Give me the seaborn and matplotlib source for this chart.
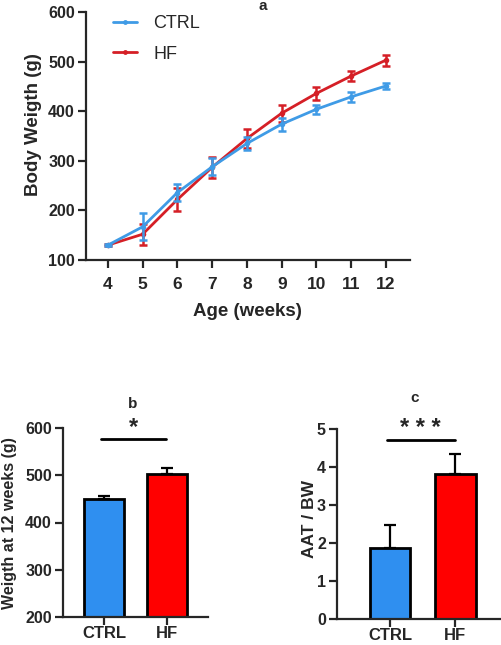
import numpy as np
import pandas as pd
import matplotlib
matplotlib.use('Agg')
import matplotlib.pyplot as plt
import seaborn as sns
from matplotlib.lines import Line2D

# Body weight over time (mean +/- error)
weeks = [4, 5, 6, 7, 8, 9, 10, 11, 12]
ctrl_bw = [130, 167, 236, 288, 335, 374, 404, 429, 451]
ctrl_err = [2, 27, 18, 17, 13, 13, 9, 10, 6]
hf_bw = [130, 152, 222, 287, 345, 396, 436, 471, 503]
hf_err = [2, 21, 24, 21, 20, 17, 13, 11, 11]

# Bar panels
groups = ['CTRL', 'HF']
w12 = [450, 503]
w12_err = [7, 12]
aat_bw = [1.88, 3.81]
aat_err = [0.60, 0.53]

blue_line = '#3f9be6'
red_line = '#d51f26'
blue_bar = '#2f8ff0'
red_bar = '#ff0000'

sns.set_style('ticks')
plt.rcParams['font.family'] = ['Liberation Sans', 'DejaVu Sans']
plt.rcParams['axes.linewidth'] = 1.6
plt.rcParams['xtick.major.width'] = 1.6
plt.rcParams['ytick.major.width'] = 1.6
plt.rcParams['xtick.major.size'] = 6
plt.rcParams['ytick.major.size'] = 6

fig = plt.figure(figsize=(5.01, 6.45), dpi=100)
W, H = 501, 645


def add_ax(l, r, t, b):
    return fig.add_axes([l / W, 1 - b / H, (r - l) / W, (b - t) / H])


# ---- panel a ----
ax_a = add_ax(86, 410, 12, 260)
df = pd.DataFrame({
    'week': weeks * 2,
    'bw': ctrl_bw + hf_bw,
    'group': ['CTRL'] * len(weeks) + ['HF'] * len(weeks),
})
sns.lineplot(data=df, x='week', y='bw', hue='group',
             palette={'CTRL': blue_line, 'HF': red_line},
             hue_order=['HF', 'CTRL'], marker='o', markersize=4, markeredgewidth=0,
             linewidth=2, errorbar=None, ax=ax_a, legend=False)
ax_a.errorbar(weeks, hf_bw, yerr=hf_err, fmt='none', ecolor=red_line, elinewidth=1.8,
              capsize=2.8, capthick=1.8, zorder=2)
ax_a.errorbar(weeks, ctrl_bw, yerr=ctrl_err, fmt='none', ecolor=blue_line, elinewidth=1.8,
              capsize=2.8, capthick=1.8, zorder=3)
ax_a.lines[1].set_zorder(4)
ax_a.set_xlim(3.37, 12.69)
ax_a.set_ylim(100, 600)
ax_a.set_xticks(weeks)
ax_a.set_yticks([100, 200, 300, 400, 500, 600])
ax_a.tick_params(axis='x', labelsize=12.5, pad=6)
ax_a.tick_params(axis='y', labelsize=11.5, pad=2)
for t in ax_a.get_xticklabels() + ax_a.get_yticklabels():
    t.set_fontweight('bold')
ax_a.set_xlabel('')
ax_a.set_ylabel('')
sns.despine(ax=ax_a)
fig.text(247 / W, 1 - 312 / H, 'Age (weeks)', ha='center', va='center',
         fontsize=13.5, fontweight='bold')
fig.text(33 / W, 1 - 125 / H, 'Body Weigth (g)', ha='center', va='center',
         rotation=90, fontsize=13.5, fontweight='bold')
fig.text(263 / W, 1 - 6 / H, 'a', ha='center', va='center', fontsize=11, fontweight='bold')

# legend
handles = [Line2D([], [], color=blue_line, lw=2, marker='o', markersize=3.5, markeredgewidth=0),
           Line2D([], [], color=red_line, lw=2, marker='o', markersize=3.5, markeredgewidth=0)]
ax_a.legend(handles, groups, loc='upper left', bbox_to_anchor=(113 / W, 1 - 15 / H),
            bbox_transform=fig.transFigure, frameon=False, fontsize=13,
            handlelength=1.35, handletextpad=0.9, labelspacing=0.75, borderpad=0,
            borderaxespad=0)


def bar_panel(ax, vals, errs, ylim, yticks, width):
    sns.barplot(x=groups, y=vals, hue=groups, palette=[blue_bar, red_bar], legend=False,
                saturation=1, edgecolor='black', linewidth=2, width=width, ax=ax)
    ax.errorbar([0, 1], vals, yerr=[[0, 0], errs], fmt='none', ecolor='black',
                elinewidth=1.6, capsize=4.5, capthick=1.6, zorder=1)
    ax.set_ylim(*ylim)
    ax.set_yticks(yticks)
    ax.tick_params(axis='x', labelsize=12, pad=0.5)
    ax.tick_params(axis='y', labelsize=11.5, pad=2)
    for t in ax.get_xticklabels() + ax.get_yticklabels():
        t.set_fontweight('bold')
    ax.set_xlabel('')
    ax.set_ylabel('')
    sns.despine(ax=ax)


# ---- panel b ----
ax_b = add_ax(63, 208, 428, 617)
bar_panel(ax_b, w12, w12_err, (200, 600), [200, 300, 400, 500, 600], 0.63)
ax_b.set_xlim(-0.65, 1.65)
ax_b.plot([-0.05, 0.98], [577, 577], color='black', lw=2, clip_on=False)
ax_b.text(0.47, 577, '*', ha='center', va='bottom', fontsize=17, fontweight='bold')
fig.text(10 / W, 1 - 523 / H, 'Weigth at 12 weeks (g)', ha='center', va='center',
         rotation=90, fontsize=11.5, fontweight='bold')
fig.text(133 / W, 1 - 404 / H, 'b', ha='center', va='center', fontsize=11, fontweight='bold')

# ---- panel c ----
ax_c = add_ax(337, 501, 429, 619)
bar_panel(ax_c, aat_bw, aat_err, (0, 5), [0, 1, 2, 3, 4, 5], 0.62)
ax_c.set_xlim(-0.815, 1.7)
ax_c.plot([-0.05, 1.0], [4.71, 4.71], color='black', lw=2, clip_on=False)
ax_c.text(0.47, 4.71, '* * *', ha='center', va='bottom', fontsize=17, fontweight='bold')
fig.text(310 / W, 1 - 519 / H, 'AAT / BW', ha='center', va='center',
         rotation=90, fontsize=12.5, fontweight='bold')
fig.text(415 / W, 1 - 398 / H, 'c', ha='center', va='center', fontsize=11, fontweight='bold')

fig.savefig('out.png', dpi=100)
